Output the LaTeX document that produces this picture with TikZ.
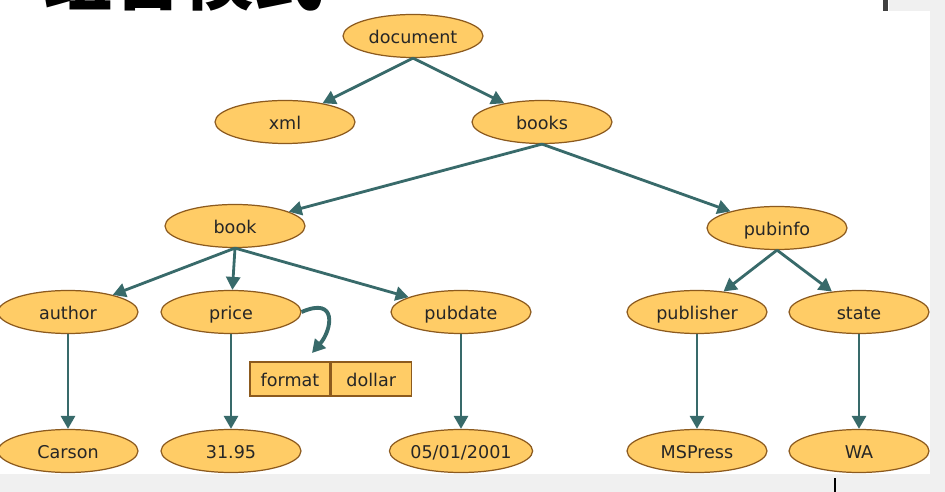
\documentclass[tikz,border=0pt]{standalone}
\usepackage{fontspec}
\setmainfont{DejaVu Sans}
\newfontfamily\cjk{Noto Sans CJK SC}
\usepackage{tikz}
\usetikzlibrary{arrows.meta,positioning,shapes.geometric}

\definecolor{elemfill}{RGB}{255,204,102}
\definecolor{elemline}{RGB}{140,90,30}
\definecolor{linkcol}{RGB}{56,106,106}
\definecolor{pagegrey}{RGB}{240,240,240}

\begin{document}
\begin{tikzpicture}[x=0.02cm,y=-0.02cm,>={Triangle[length=2.6mm,width=2.8mm]},
    elem/.style={ellipse,draw=elemline,fill=elemfill,line width=0.7pt,
      minimum width=2.8cm,minimum height=0.86cm,inner sep=0pt,
      text height=0.9em,text depth=0.1em,
      font=\fontsize{10}{12}\selectfont,text=black!85},
    attr/.style={rectangle,draw=elemline,fill=elemfill,line width=0.7pt,
      minimum width=1.6cm,minimum height=0.68cm,inner sep=0pt,
      text height=0.9em,text depth=0.1em,
      font=\fontsize{10}{12}\selectfont,text=black!85},
    link/.style={->,draw=linkcol,line width=1.6pt}]
    \useasboundingbox (0,0) rectangle (945,492);
    \clip (0,0) rectangle (945,492);

    % screen around the diagram
    \fill[pagegrey] (0,0) rectangle (945,492);
    \fill[white] (0,0) rectangle (930,474);
    \fill[pagegrey] (889,0) rectangle (930,11);
    \fill[black!75] (883,0) rectangle (888,11);
    \draw[black,line width=0.6pt] (835,478) -- (835,492);
    \node[font=\cjk\bfseries\fontsize{40}{40}\selectfont,anchor=base] (title) at (183,5) {组合模式};

    % elements
    \foreach \name/\x/\y/\txt in {document/413/36/document,xml/285/122/xml,books/542/122/books,
        book/235/226/book,pubinfo/777/228/pubinfo,
        author/68/312/author,price/231/312/price,pubdate/461/312/pubdate,
        publisher/697/312/publisher,state/859/312/state,
        carson/68/451/Carson,cost/231/451/31.95,date/461/451/{05/01/2001},
        mspress/697/451/MSPress,wa/859/451/WA} {
      \node[elem] (\name) at (\x,\y) {\txt};
    }

    % attribute of price
    \node[attr] (fmt) at (290,379) {format};
    \node[attr,right=0pt of fmt] (dollar) {dollar};
    \coordinate (hook) at (312,353);

    % links
    \foreach \a/\b in {document/xml,document/books,books/book,books/pubinfo,
        book/author,book/price,book/pubdate,pubinfo/publisher,pubinfo/state,
        author/carson,price/cost,pubdate/date,publisher/mspress,state/wa} {
      \draw[link] (\a.south) -- (\b);
    }
    \draw[link,line width=2.2pt] (price.east) .. controls (338,296) and (332,330) .. (hook);
  \end{tikzpicture}
\end{document}
